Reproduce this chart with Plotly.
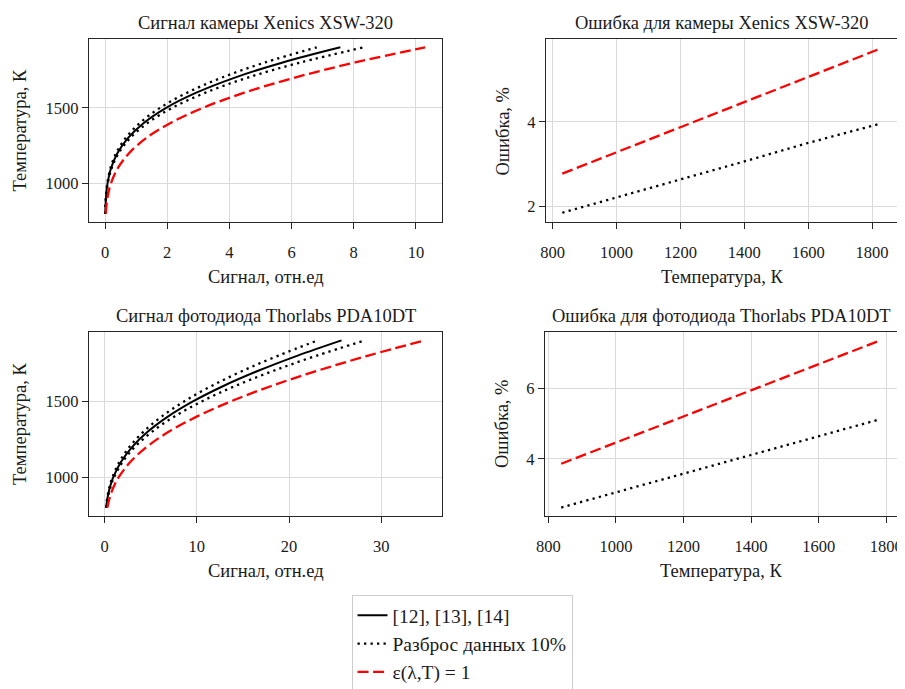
import plotly.graph_objects as go
from plotly.subplots import make_subplots

# the page puts the figure 8 px from the top-left corner of the 905x689 window
PAGE_OFF = 8
W, H = 905 - PAGE_OFF, 689 - PAGE_OFF

# temperature grid for the signal curves, K
temp = [800, 850, 900, 950, 1000, 1100, 1200, 1300, 1400, 1500, 1600, 1700, 1800, 1900]

# Xenics XSW-320 signal, rel. units
cam_ref = [0.0073, 0.0147, 0.0276, 0.0484, 0.080, 0.192, 0.397, 0.735, 1.246, 1.967, 2.936, 4.178, 5.717, 7.57]
cam_lo = [0.0066, 0.0133, 0.0248, 0.0436, 0.072, 0.173, 0.357, 0.662, 1.121, 1.770, 2.642, 3.760, 5.145, 6.81]
cam_hi = [0.0080, 0.0162, 0.0304, 0.0532, 0.088, 0.211, 0.437, 0.809, 1.371, 2.164, 3.230, 4.596, 6.289, 8.33]
cam_bb = [0.0229, 0.0426, 0.0740, 0.121, 0.189, 0.407, 0.772, 1.326, 2.108, 3.151, 4.478, 6.108, 8.047, 10.3]

# Thorlabs PDA10DT signal, rel. units
pd_ref = [0.162, 0.271, 0.429, 0.646, 0.933, 1.763, 2.996, 4.693, 6.894, 9.622, 12.88, 16.66, 20.94, 25.7]
pd_lo = [0.146, 0.244, 0.386, 0.581, 0.840, 1.587, 2.696, 4.224, 6.205, 8.660, 11.59, 14.99, 18.85, 23.13]
pd_hi = [0.178, 0.298, 0.472, 0.711, 1.026, 1.939, 3.296, 5.162, 7.583, 10.58, 14.17, 18.33, 23.03, 28.27]
pd_bb = [0.292, 0.475, 0.731, 1.076, 1.522, 2.776, 4.574, 6.983, 10.04, 13.74, 18.09, 23.06, 28.61, 34.7]

# errors, %
err_cam_t = [830, 1000, 1200, 1400, 1600, 1822]
err_cam_spread = [1.84, 2.20, 2.63, 3.06, 3.50, 3.95]
err_cam_bb = [2.77, 3.28, 3.88, 4.48, 5.08, 5.73]

err_pd_t = [838, 1000, 1200, 1400, 1600, 1782]
err_pd_spread = [2.62, 3.05, 3.58, 4.12, 4.65, 5.12]
err_pd_bb = [3.86, 4.46, 5.20, 5.94, 6.68, 7.35]

names = ["[12], [13], [14]", "Разброс данных 10%", "ε(λ,T) = 1"]
titles = ["Сигнал камеры Xenics XSW-320", "Ошибка для камеры Xenics XSW-320",
          "Сигнал фотодиода Thorlabs PDA10DT", "Ошибка для фотодиода Thorlabs PDA10DT"]

FONT = "Liberation Serif"
TXT = "#1a1a1a"
solid = dict(color="black", width=2)
dotted = dict(color="black", width=2.3, dash="2.3px,4.2px")
dashed = dict(color="red", width=2.3, dash="11px,4.6px")

fig = make_subplots(rows=2, cols=2)

def signal_panel(row, sig_ref, sig_lo, sig_hi, sig_bb, legend):
    fig.add_trace(go.Scatter(x=sig_lo, y=temp, mode="lines", line=dotted, line_shape="spline",
                             name=names[1], showlegend=False, legendrank=2), row=row, col=1)
    fig.add_trace(go.Scatter(x=sig_hi, y=temp, mode="lines", line=dotted, line_shape="spline",
                             name=names[1], showlegend=legend, legendrank=2), row=row, col=1)
    fig.add_trace(go.Scatter(x=sig_ref, y=temp, mode="lines", line=solid, line_shape="spline",
                             name=names[0], showlegend=legend, legendrank=1), row=row, col=1)
    fig.add_trace(go.Scatter(x=sig_bb, y=temp, mode="lines", line=dashed, line_shape="spline",
                             name=names[2], showlegend=legend, legendrank=3), row=row, col=1)

def error_panel(row, t, spread, bb):
    fig.add_trace(go.Scatter(x=t, y=spread, mode="lines", line=dotted, showlegend=False), row=row, col=2)
    fig.add_trace(go.Scatter(x=t, y=bb, mode="lines", line=dashed, showlegend=False), row=row, col=2)

signal_panel(1, cam_ref, cam_lo, cam_hi, cam_bb, True)
error_panel(1, err_cam_t, err_cam_spread, err_cam_bb)
signal_panel(2, pd_ref, pd_lo, pd_hi, pd_bb, False)
error_panel(2, err_pd_t, err_pd_spread, err_pd_bb)

def px_x(p):
    return (p - PAGE_OFF) / W

def px_y(p):
    return 1 - (p - PAGE_OFF) / H

# axes boxes in window pixels: (left, right, top, bottom)
boxes = [(89, 442, 39, 222), (546, 897, 39, 222), (89, 442, 332, 516), (545, 897, 332, 516)]
xranges = [[-0.516, 10.84], [779, 1878], [-1.7, 36.6], [790, 1832]]
yranges = [[745, 1955], [1.62, 5.97], [745, 1955], [2.38, 7.59]]
xticks = [[0, 2, 4, 6, 8, 10], [800, 1000, 1200, 1400, 1600, 1800], [0, 10, 20, 30],
          [800, 1000, 1200, 1400, 1600, 1800]]
yticks = [[1000, 1500], [2, 4], [1000, 1500], [4, 6]]
xtitles = ["Сигнал, отн.ед", "Температура, К", "Сигнал, отн.ед", "Температура, К"]
ytitles = ["Температура, К", "Ошибка, %", "Температура, К", "Ошибка, %"]

axis_style = dict(showline=True, linecolor="#262626", linewidth=1.2, mirror=True,
                  ticks="outside", ticklen=6, tickcolor="#262626", tickwidth=1.2,
                  showgrid=True, gridcolor="#dadada", gridwidth=1, zeroline=False,
                  automargin=False, ticklabeloverflow="allow",
                  tickfont=dict(family=FONT, size=16.5, color=TXT))

def label(text, x, y, angle=0):
    return dict(text=text, x=px_x(x), y=px_y(y), xref="paper", yref="paper",
                xanchor="center", yanchor="middle", textangle=angle, showarrow=False,
                font=dict(family=FONT, size=18.5, color=TXT))

annotations = []
for i, (l, r, t, b) in enumerate(boxes):
    n = "" if i == 0 else str(i + 1)
    fig.layout["xaxis" + n].update(domain=[px_x(l), px_x(r)], range=xranges[i],
                                    tickvals=xticks[i], ticklabelstandoff=9, **axis_style)
    fig.layout["yaxis" + n].update(domain=[px_y(b), px_y(t)], range=yranges[i],
                                    tickvals=yticks[i], **axis_style)
    cx = (l + r) / 2
    annotations.append(label(titles[i], cx, t - 16))
    annotations.append(label(xtitles[i], cx, b + 55))
    annotations.append(label(ytitles[i], l - 69 if i % 2 == 0 else l - 43, (t + b) / 2, -90))

fig.update_layout(
    width=W, height=H,
    margin=dict(l=0, r=0, t=0, b=0, autoexpand=False),
    paper_bgcolor="white", plot_bgcolor="white",
    annotations=annotations,
    legend=dict(x=px_x(462), y=px_y(595), xanchor="center", yanchor="top",
                bordercolor="#cccccc", borderwidth=1, bgcolor="white",
                font=dict(family=FONT, size=19.5, color=TXT),
                tracegroupgap=0, traceorder="normal"),
)

fig.write_html("out.html")
